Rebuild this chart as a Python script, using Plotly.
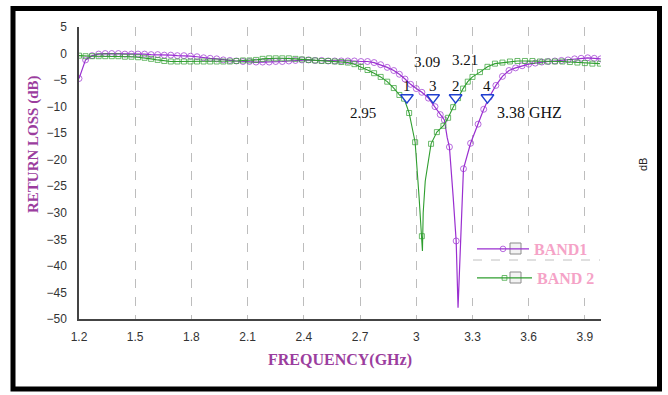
import plotly.graph_objects as go

# ---------------- data ----------------
band1_freq = [1.2, 1.235, 1.27, 1.305, 1.34, 1.375, 1.41, 1.445, 1.48, 1.515, 1.55, 1.585, 1.62, 1.655,
              1.69, 1.725, 1.76, 1.795, 1.83, 1.865, 1.9, 1.935, 1.97, 2.005, 2.04, 2.075, 2.11, 2.145,
              2.18, 2.215, 2.25, 2.285, 2.32, 2.355, 2.39, 2.425, 2.46, 2.495, 2.53, 2.565, 2.6, 2.635,
              2.67, 2.705, 2.74, 2.775, 2.81, 2.845, 2.88, 2.91, 2.94, 2.97, 3.0, 3.03, 3.065, 3.1,
              3.128, 3.15, 3.177, 3.213, 3.252, 3.29, 3.33, 3.36, 3.39, 3.425, 3.46, 3.495, 3.53,
              3.565, 3.6, 3.635, 3.67, 3.705, 3.74, 3.775, 3.81, 3.845, 3.88, 3.915, 3.95, 3.985]
band1_db = [-4.7, -1.2, -0.4, -0.1, 0.0, 0.0, 0.0, -0.1, -0.1, -0.1, -0.1, -0.2, -0.2, -0.3,
            -0.3, -0.4, -0.4, -0.5, -0.6, -0.8, -0.9, -1.0, -1.2, -1.3, -1.4, -1.5, -1.5, -1.6,
            -1.6, -1.6, -1.5, -1.5, -1.4, -1.3, -1.2, -1.2, -1.3, -1.3, -1.4, -1.4, -1.4, -1.4,
            -1.4, -1.5, -1.5, -1.7, -2.1, -2.6, -3.2, -3.9, -4.8, -5.8, -6.6, -7.3, -8.4, -10.0,
            -11.5, -12.5, -17.6, -35.3, -21.7, -16.9, -13.3, -10.5, -8.2, -6.0, -4.3, -3.2, -2.7,
            -2.3, -2.0, -1.8, -1.6, -1.5, -1.4, -1.3, -1.2, -1.0, -0.9, -0.8, -0.9, -1.0]
# extra line vertices (no marker) around the resonance
band1_dip_freq = [3.165, 3.197, 3.223, 3.233, 3.245]
band1_dip_db = [-15.8, -27.0, -47.9, -39.5, -30.0]

band2_freq = [1.2, 1.235, 1.27, 1.305, 1.34, 1.375, 1.41, 1.445, 1.48, 1.515, 1.55, 1.585, 1.62, 1.655,
              1.69, 1.725, 1.76, 1.795, 1.83, 1.865, 1.9, 1.935, 1.97, 2.005, 2.04, 2.075, 2.11, 2.145,
              2.18, 2.215, 2.25, 2.285, 2.32, 2.355, 2.39, 2.425, 2.46, 2.495, 2.53, 2.565, 2.6, 2.635,
              2.67, 2.705, 2.74, 2.775, 2.81, 2.845, 2.88, 2.91, 2.935, 2.962, 2.994, 3.03, 3.079,
              3.11, 3.145, 3.17, 3.197, 3.223, 3.25, 3.275, 3.3, 3.34, 3.38, 3.42, 3.46, 3.5, 3.54,
              3.58, 3.62, 3.66, 3.7, 3.74, 3.78, 3.82, 3.86, 3.9, 3.94, 3.98]
band2_db = [-0.4, -0.5, -0.5, -0.5, -0.5, -0.5, -0.5, -0.6, -0.6, -0.7, -0.8, -1.0, -1.2, -1.4,
            -1.5, -1.5, -1.5, -1.5, -1.5, -1.5, -1.5, -1.5, -1.5, -1.5, -1.4, -1.3, -1.3, -1.2,
            -1.0, -0.9, -0.9, -0.9, -0.9, -1.0, -1.1, -1.2, -1.3, -1.4, -1.4, -1.5, -1.6, -1.7,
            -2.0, -2.5, -3.1, -3.7, -4.4, -5.3, -6.5, -7.8, -8.5, -11.2, -16.7, -34.4, -17.0,
            -14.8, -13.6, -12.1, -10.1, -8.4, -6.6, -5.3, -4.4, -3.5, -2.5, -1.9, -1.7, -1.5, -1.4,
            -1.4, -1.4, -1.5, -1.5, -1.5, -1.5, -1.6, -1.7, -1.8, -1.9, -1.9]
band2_dip_freq = [3.015, 3.033, 3.037, 3.048]
band2_dip_db = [-27.0, -37.2, -30.0, -24.0]

marker_freq = [2.95, 3.09, 3.21, 3.38]
marker_db = [-8.3, -8.3, -8.3, -8.3]
marker_labels = ["1", "3", "2", "4"]

x_ticks = [1.2, 1.5, 1.8, 2.1, 2.4, 2.7, 3.0, 3.3, 3.6, 3.9]
x_ticktext = ["1.2", "1.5", "1.8", "2.1", "2.4", "2.7", "3", "3.3", "3.6", "3.9"]
y_ticks = [5, 0, -5, -10, -15, -20, -25, -30, -35, -40, -45, -50]
y_grid = [0, -5, -10, -15, -20, -25, -30, -35, -40, -45]

# ---------------- helpers ----------------
def merge(f_marked, d_marked, f_extra, d_extra, msize):
    pts = [(f, d, msize) for f, d in zip(f_marked, d_marked)] + \
          [(f, d, 0) for f, d in zip(f_extra, d_extra)]
    pts.sort(key=lambda p: p[0])
    return [p[0] for p in pts], [p[1] for p in pts], [p[2] for p in pts]

PURPLE = "#9a2fd0"
GREEN = "#2f9e2f"
PINK = "#f5a3c7"
TITLE_PURPLE = "#9b3d9e"

# plot area in pixels
W, H = 668, 395
L, R, T, B = 79, 601, 27, 319

def px(x):
    return (x - L) / (R - L)

def py(y):
    return (B - y) / (B - T)

f1, d1, s1 = merge(band1_freq, band1_db, band1_dip_freq, band1_dip_db, 6)
f2, d2, s2 = merge(band2_freq, band2_db, band2_dip_freq, band2_dip_db, 5)

fig = go.Figure()
fig.add_trace(go.Scatter(
    x=f1, y=d1, mode="lines+markers", name="BAND1", legend="legend",
    line=dict(color=PURPLE, width=1.2),
    marker=dict(symbol="circle-open", size=s1, color=PURPLE, line=dict(width=1)),
))
fig.add_trace(go.Scatter(
    x=f2, y=d2, mode="lines+markers", name="BAND 2", legend="legend2",
    line=dict(color=GREEN, width=1.1),
    marker=dict(symbol="square-open", size=s2, color=GREEN, line=dict(width=1)),
))
fig.add_trace(go.Scatter(
    x=marker_freq, y=marker_db, mode="markers", showlegend=False,
    marker=dict(symbol="triangle-down", size=11, color="white",
                line=dict(color="#1f3fd0", width=1.5)),
))

tickfont = dict(family="Liberation Sans", size=12, color="#333")

fig.update_layout(
    width=W, height=H,
    margin=dict(l=L, r=W - R, t=T, b=H - B),
    paper_bgcolor="white", plot_bgcolor="white",
    xaxis=dict(range=[1.2, 3.986], tickvals=x_ticks, ticktext=x_ticktext,
               showline=True, linecolor="#444", linewidth=1.5, ticks="",
               tickfont=tickfont, ticklabelstandoff=6, zeroline=False,
               showgrid=True, gridcolor="#bdbdbd", griddash="dash", gridwidth=1),
    yaxis=dict(range=[-50, 5], tickvals=y_ticks, showline=True, linecolor="#444",
               linewidth=1.5, ticks="", tickfont=tickfont, ticklabelstandoff=8,
               zeroline=False, showgrid=False),
    yaxis2=dict(range=[-50, 5], tickvals=y_ticks, overlaying="y", side="right",
                showline=True, linecolor="#444", linewidth=1.5, ticks="",
                tickfont=tickfont, ticklabelstandoff=8, showgrid=False, zeroline=False),
    yaxis3=dict(range=[-50, 5], tickvals=y_grid, overlaying="y", showticklabels=False,
                showline=False, ticks="", zeroline=False,
                showgrid=True, gridcolor="#bdbdbd", griddash="dash", gridwidth=1),
    legend=dict(x=px(472), y=py(232), xanchor="left", yanchor="top",
                bgcolor="rgba(0,0,0,0)", itemwidth=52,
                font=dict(family="Liberation Serif", size=16, color=PINK, weight="bold")),
    legend2=dict(x=px(472), y=py(261), xanchor="left", yanchor="top",
                 bgcolor="rgba(0,0,0,0)", itemwidth=55,
                 font=dict(family="Liberation Serif", size=16, color=PINK, weight="bold")),
    showlegend=True,
)

shapes = [
    # legend background box
    dict(type="rect", xref="paper", yref="paper", x0=px(470), x1=px(606), y0=py(298), y1=py(233),
         fillcolor="white", line=dict(width=0), layer="above"),
    # legend separator
    dict(type="line", xref="paper", yref="paper", x0=px(473), x1=px(600), y0=py(260), y1=py(260),
         line=dict(color="#c0c0c0", width=1, dash="dash"), layer="above"),
    # checkboxes
    dict(type="rect", xref="paper", yref="paper", x0=px(510), x1=px(521), y0=py(254), y1=py(243),
         fillcolor="#f3f3f3", line=dict(color="#8a8a8a", width=1), layer="above"),
    dict(type="rect", xref="paper", yref="paper", x0=px(510), x1=px(521), y0=py(283), y1=py(272),
         fillcolor="#f3f3f3", line=dict(color="#8a8a8a", width=1), layer="above"),
    # outer black frame
    dict(type="rect", xref="paper", yref="paper", x0=px(13), x1=px(659.5), y0=py(389), y1=py(8.5),
         line=dict(color="black", width=5), fillcolor="rgba(0,0,0,0)", layer="above"),
]
fig.update_layout(shapes=shapes)

ann_font = dict(family="Liberation Serif", size=15, color="#111")

def ann(text, x, y, font, angle=0):
    return dict(text=text, x=px(x), y=py(y), xref="paper", yref="paper", showarrow=False,
                xanchor="center", yanchor="middle", textangle=angle, font=font)

annotations = [
    ann("3.09", 427, 62, ann_font),
    ann("3.21", 465, 60, ann_font),
    ann("2.95", 363, 113, ann_font),
    ann("3.38 GHZ", 529, 112, dict(family="Liberation Serif", size=16, color="#111")),
    ann("<b>RETURN LOSS (dB)</b>", 33, 144,
        dict(family="Liberation Serif", size=15, color=TITLE_PURPLE), -90),
    ann("<b>FREQUENCY(GHz)</b>", 340, 360,
        dict(family="Liberation Serif", size=16, color=TITLE_PURPLE)),
    ann("dB", 643, 165, dict(family="Liberation Sans", size=11, color="#222"), -90),
]
# marker numbers placed just above each triangle marker
for f, d, lab in zip(marker_freq, marker_db, marker_labels):
    annotations.append(dict(text=lab, x=f, y=d, xref="x", yref="y", showarrow=False,
                            xanchor="center", yanchor="middle", yshift=12,
                            font=dict(family="Liberation Serif", size=15, color="#111")))
fig.update_layout(annotations=annotations)

fig.write_html("out.html", config={"displayModeBar": False},
               post_script="document.body.style.margin='0px';document.body.style.overflow='hidden';")
